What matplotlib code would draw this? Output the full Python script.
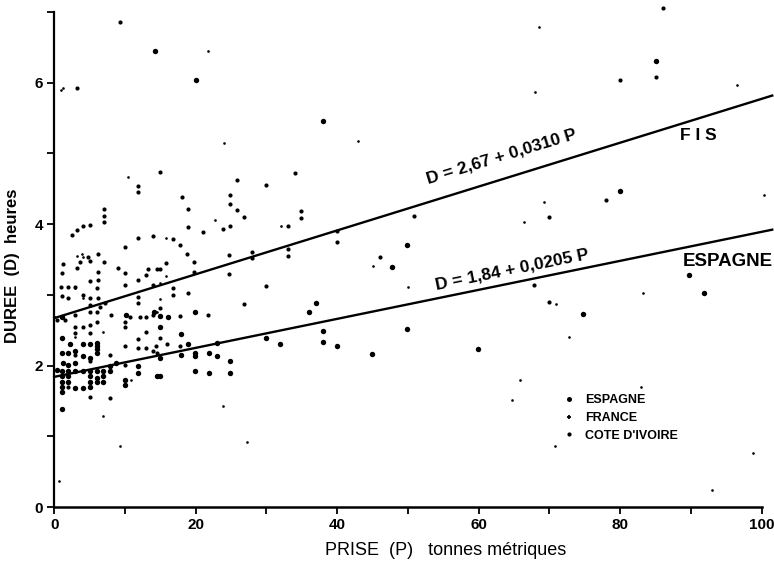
import numpy as np
import matplotlib
matplotlib.use("Agg")
import matplotlib.pyplot as plt
from matplotlib.lines import Line2D

plt.rcParams['font.family'] = ['Liberation Sans', 'DejaVu Sans']

# --- data (P = prise en t, D = duree en h) ---
espagne_p = [14.2, 20.1, 85.0, 80.0, 89.8, 91.8, 74.8, 59.9, 44.9, 49.9, 40.0, 38.0, 38.0, 31.9,
             29.9, 36.0, 37.0, 49.9, 47.8, 38.0, 24.9, 24.9, 19.9, 21.9, 15.0, 23.0, 21.9, 19.9,
             19.9, 17.9, 15.0, 18.9, 23.0, 17.9, 15.0, 19.9, 15.0, 16.1, 14.1, 10.2, 6.0, 6.0,
             6.0, 6.0, 2.2, 4.1, 5.0, 1.1, 2.0, 2.9, 4.1, 5.0, 1.3, 2.0, 2.9, 0.4, 1.1, 2.0,
             2.9, 4.1, 5.0, 6.0, 6.9, 6.9, 6.9, 6.0, 6.0, 5.0, 5.0, 7.9, 7.9, 10.0, 10.0, 11.9,
             11.9, 14.6, 1.1, 1.1, 1.1, 1.1, 2.0, 2.0, 2.9, 4.1, 5.0, 1.1, 1.1, 1.1, 8.8]
espagne_d = [6.44, 6.03, 6.30, 4.47, 3.28, 3.03, 2.73, 2.24, 2.17, 2.52, 2.27, 2.49, 2.34, 2.30,
             2.39, 2.75, 2.89, 3.70, 3.39, 5.46, 2.07, 1.90, 1.92, 1.89, 1.85, 2.13, 2.18, 2.18,
             2.13, 2.15, 2.11, 2.31, 2.32, 2.44, 2.55, 2.75, 2.70, 2.68, 2.75, 2.72, 2.32, 2.27,
             2.23, 2.18, 2.30, 2.30, 2.30, 2.18, 2.18, 2.20, 2.13, 2.11, 2.04, 2.01, 2.04, 1.94, 1.92, 1.92,
             1.92, 1.92, 1.92, 1.92, 1.92, 1.85, 1.77, 1.83, 1.77, 1.85, 1.77, 1.99, 1.92, 1.80, 1.73, 1.99,
             1.90, 1.85, 1.85, 1.77, 1.70, 1.63, 1.85, 1.77, 1.68, 1.68, 1.69, 1.39, 2.39, 2.68, 2.04]

civ_p = [9.3, 3.2, 85.0, 80.0, 78.0, 69.9, 67.8, 69.9, 14.9, 25.8, 29.9, 18.0, 24.9, 24.9, 25.9,
         26.9, 18.9, 18.9, 21.0, 23.8, 24.9, 14.0, 16.8, 17.8, 18.8, 19.8, 15.8, 14.9, 19.8, 24.7,
         24.7, 27.9, 27.9, 14.0, 16.8, 16.8, 18.9, 29.9, 26.9, 14.9, 11.9, 11.9, 2.5, 3.2, 4.1,
         5.0, 7.0, 7.0, 7.0, 11.9, 10.0, 6.2, 4.8, 3.6, 5.0, 1.3, 7.0, 9.0, 3.2, 10.0, 1.1, 6.2,
         13.2, 14.6, 11.9, 13.0, 5.0, 6.2, 10.0, 1.0, 2.0, 2.9, 6.0, 1.1, 2.0, 4.1, 5.0, 6.2,
         11.9, 11.9, 5.0, 6.5, 7.2, 0.4, 1.5, 2.9, 5.0, 6.0, 8.1, 10.7, 12.1, 13.0, 13.9, 2.9,
         4.1, 5.0, 6.0, 10.0, 10.0, 13.0, 2.9, 5.0, 11.8, 10.0, 11.8, 13.0, 14.4, 2.9, 5.0, 7.9,
         10.0, 14.6, 2.0, 5.0, 7.9, 34.0, 34.9, 34.9, 33.0, 40.0, 40.0, 50.9, 33.0, 33.0, 46.0,
         15.0, 14.0, 16.0, 17.8, 17.8, 21.7, 86.0]
civ_d = [6.85, 5.93, 6.08, 6.04, 4.34, 4.10, 3.14, 2.90, 4.73, 4.62, 4.55, 4.38, 4.41, 4.28, 4.20,
         4.10, 4.21, 3.96, 3.89, 3.93, 3.97, 3.83, 3.79, 3.70, 3.58, 3.46, 3.45, 3.37, 3.32, 3.56,
         3.30, 3.61, 3.52, 3.14, 3.10, 3.00, 3.03, 3.13, 2.87, 2.82, 4.54, 4.45, 3.85, 3.92, 3.97,
         3.98, 4.21, 4.11, 4.03, 3.80, 3.68, 3.58, 3.54, 3.47, 3.48, 3.44, 3.47, 3.38, 3.38, 3.31, 3.31, 3.32,
         3.37, 3.37, 3.21, 3.28, 3.20, 3.21, 3.14, 3.11, 3.11, 3.11, 3.10, 2.99, 2.96, 3.00, 2.96, 2.96,
         2.97, 2.89, 2.85, 2.83, 2.89, 2.65, 2.65, 2.72, 2.75, 2.75, 2.72, 2.69, 2.69, 2.69, 2.72, 2.55,
         2.55, 2.58, 2.61, 2.61, 2.54, 2.48, 2.46, 2.46, 2.37, 2.27, 2.25, 2.25, 2.27, 2.15, 2.06, 2.15,
         2.01, 2.18, 1.70, 1.55, 1.54, 4.72, 4.18, 4.08, 3.97, 3.90, 3.75, 4.11, 3.65, 3.55, 3.54,
         2.39, 2.21, 2.31, 2.27, 2.70, 2.72, 7.05]

france_p = [21.8, 24.0, 42.9, 68.5, 96.5, 67.9, 69.2, 66.4, 100.3, 70.9, 72.8, 83.3, 65.8, 64.7,
            83.0, 70.8, 98.8, 93.0, 1.0, 1.3, 0.7, 9.3, 23.8, 27.3, 6.9, 6.9, 10.5, 22.7, 15.8,
            4.1, 32.0, 45.0, 50.0, 15.8, 14.9, 14.9, 2.9, 0.1, 2.9, 4.1, 3.2, 3.9, 10.9, 14.6]
france_d = [6.44, 5.14, 5.17, 6.79, 5.97, 5.87, 4.31, 4.03, 4.41, 2.87, 2.41, 3.03, 1.80, 1.52,
            1.70, 0.86, 0.76, 0.24, 5.89, 5.92, 0.37, 0.86, 1.43, 0.92, 1.28, 2.48, 4.66, 4.06, 3.80,
            3.54, 3.97, 3.41, 3.11, 3.27, 3.17, 2.94, 2.41, 2.68, 3.10, 2.96, 3.55, 3.57, 1.80, 2.75]

# regression lines D = a + b P
fis_a, fis_b = 2.67, 0.0310
esp_a, esp_b = 1.84, 0.0205
p_line = np.array([0, 101.5])

fig = plt.figure(figsize=(7.74, 5.64), dpi=100)
ax = fig.add_axes([0.070, 0.101, 0.914, 0.878])

ax.plot(espagne_p, espagne_d, 'o', color='black', ms=3.9, mew=0, clip_on=False)
ax.plot(civ_p, civ_d, 'o', color='black', ms=3.0, mew=0, clip_on=False)
ax.plot(france_p, france_d, 'o', color='black', ms=1.9, mew=0, clip_on=False)

ax.plot(p_line, fis_a + fis_b * p_line, color='black', lw=1.7, clip_on=False)
ax.plot(p_line, esp_a + esp_b * p_line, color='black', lw=1.7, clip_on=False)

ax.text(63.2, 4.95, 'D = 2,67 + 0,0310 P', rotation=17, ha='center', va='center',
        fontsize=12.5, fontweight='bold')
ax.text(64.8, 3.36, 'D = 1,84 + 0,0205 P', rotation=11.5, ha='center', va='center',
        fontsize=12.5, fontweight='bold')
ax.text(91.0, 5.25, 'F I S', ha='center', va='center', fontsize=12.5, fontweight='bold')
ax.text(95.2, 3.47, 'ESPAGNE', ha='center', va='center', fontsize=13.5, fontweight='bold')

handles = [Line2D([], [], ls='', marker='o', color='black', ms=3.6, mew=0),
           Line2D([], [], ls='', marker='+', color='black', ms=3.2, mew=1.3),
           Line2D([], [], ls='', marker='o', color='black', ms=3.0, mew=0)]
ax.legend(handles, ['ESPAGNE', 'FRANCE', "COTE D'IVOIRE"], loc='upper left',
          bbox_to_anchor=(0.705, 0.25), frameon=False, handlelength=0.8, handletextpad=0.9,
          labelspacing=0.45, prop={'size': 9, 'weight': 'bold'})

ax.set_xlim(0, 100)
ax.set_ylim(0, 7)
ax.set_xticks(np.arange(0, 101, 10))
ax.set_xticklabels(['0', '', '20', '', '40', '', '60', '', '80', '', '100'])
ax.set_yticks(np.arange(0, 8, 1))
ax.set_yticklabels(['0', '', '2', '', '4', '', '6', ''])
for lab in ax.get_xticklabels() + ax.get_yticklabels():
    lab.set_fontweight('bold')
ax.tick_params(direction='out', length=5, width=1.3, labelsize=11, pad=3)

ax.spines['top'].set_visible(False)
ax.spines['right'].set_visible(False)
ax.spines['left'].set_linewidth(1.6)
ax.spines['bottom'].set_linewidth(1.8)

ax.set_xlabel('PRISE  (P)   tonnes métriques', fontsize=13)
ax.xaxis.set_label_coords(0.554, -0.07)
ax.set_ylabel('DUREE  (D)  heures', fontsize=12, fontweight='bold')
ax.yaxis.set_label_coords(-0.048, 0.487)

fig.savefig('out.png', dpi=100)
